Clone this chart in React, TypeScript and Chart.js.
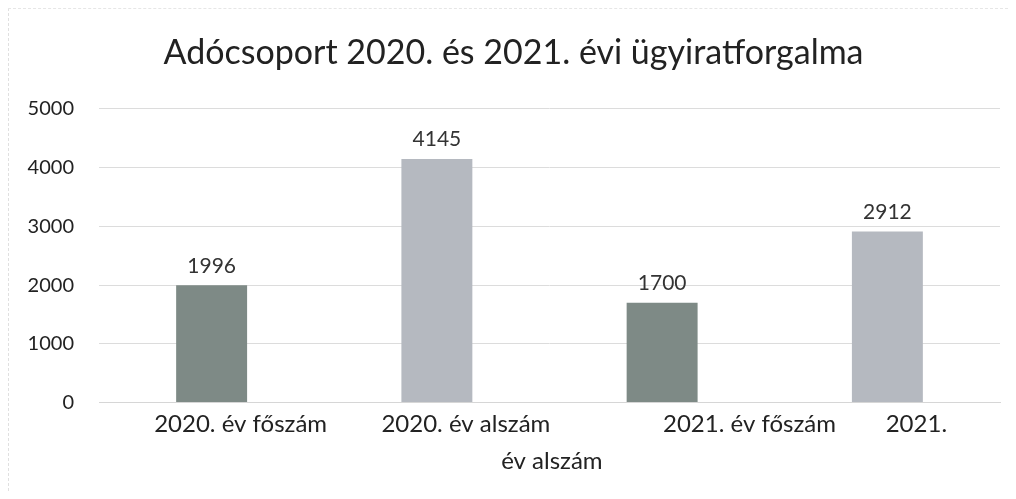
import React, { useEffect, useRef } from "react";
import { Chart, registerables } from "chart.js";

Chart.register(...registerables);

const title = "Adócsoport 2020. és 2021. évi ügyiratforgalma";
const categories: (string | string[])[] = [
  "2020. év főszám",
  ["2020. év alszám", "                            év alszám"],
  "                   2021. év főszám",
  "2021.",
];
const values = [1996, 4145, 1700, 2912];
const barColors = ["#7e8a86", "#b5b9c0", "#7e8a86", "#b5b9c0"];
const yTicks = [0, 1000, 2000, 3000, 4000, 5000];

const FONT = "Lato, 'Open Sans', sans-serif";

const valueLabels = {
  id: "valueLabels",
  afterDatasetsDraw(chart: any) {
    const ctx = chart.ctx;
    const meta = chart.getDatasetMeta(0);
    ctx.save();
    ctx.font = `21px ${FONT}`;
    ctx.fillStyle = "#333333";
    ctx.textAlign = "center";
    ctx.textBaseline = "bottom";
    meta.data.forEach((bar: any, i: number) => {
      ctx.fillText(String(values[i]), bar.x, bar.y - 9);
    });
    ctx.restore();
  },
};

export default function App() {
  const ref = useRef<HTMLCanvasElement>(null);
  useEffect(() => {
    if (!ref.current) return;
    const chart = new Chart(ref.current, {
      type: "bar",
      data: {
        labels: categories,
        datasets: [
          {
            data: values,
            backgroundColor: barColors,
            categoryPercentage: 1,
            barPercentage: 0.315,
          },
        ],
      },
      options: {
        animation: false,
        responsive: true,
        maintainAspectRatio: false,
        layout: { padding: { left: 18, right: 8, top: 14, bottom: 16 } },
        plugins: {
          legend: { display: false },
          tooltip: { enabled: false },
          title: {
            display: true,
            text: title,
            color: "#222222",
            font: { family: FONT, size: 34, weight: "normal" },
            padding: { top: 10, bottom: 35 },
          },
        },
        scales: {
          x: {
            grid: { display: false },
            border: { color: "#d6d6d6" },
            afterFit: (scale: any) => {
              scale.paddingLeft = 0;
              scale.paddingRight = 0;
            },
            ticks: {
              color: "#222222",
              font: { family: FONT, size: 24, lineHeight: 1.55 },
              maxRotation: 0,
              autoSkip: false,
              labelOffset: 29,
              padding: -5,
            },
          },
          y: {
            min: 0,
            max: 5000,
            afterBuildTicks: (axis: any) => {
              axis.ticks = yTicks.map((v) => ({ value: v }));
            },
            afterFit: (scale: any) => {
              scale.width = 72;
            },
            grid: { color: "#dcdcdc", drawTicks: false },
            border: { display: false },
            ticks: {
              color: "#222222",
              font: { family: FONT, size: 20 },
              padding: 25,
              callback: (v: any) => String(v),
            },
          },
        },
      },
      plugins: [valueLabels],
    });
    return () => chart.destroy();
  }, []);
  return (
    <div
      style={{
        width: 1000,
        height: 483,
        position: "relative",
        boxSizing: "border-box",
        borderLeft: "1px dashed #e0e0e0",
        borderTop: "1px dashed #e6e6e6",
        background: "#ffffff",
      }}
    >
      <canvas ref={ref} />
    </div>
  );
}
